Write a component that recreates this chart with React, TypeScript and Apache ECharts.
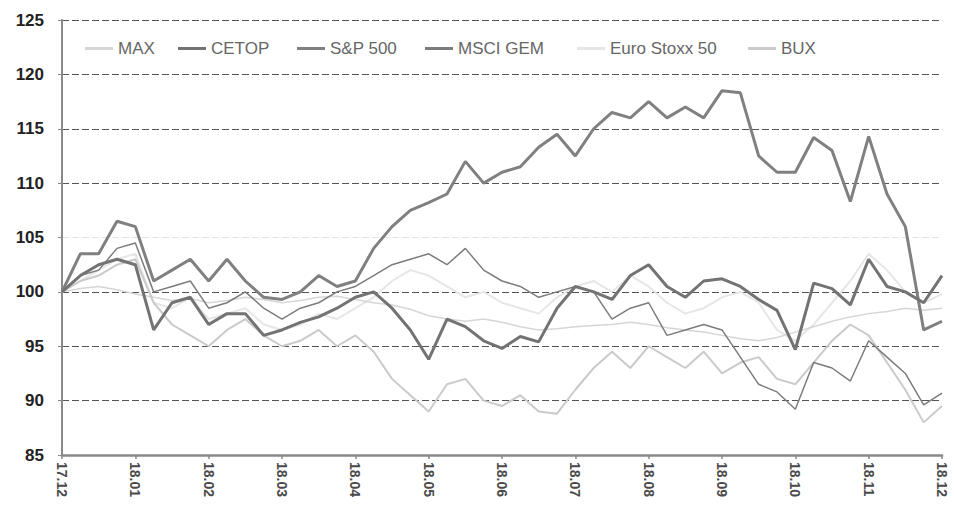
import React, { useEffect, useRef } from "react";
import * as echarts from "echarts";

const monthLabels = ["17.12", "18.01", "18.02", "18.03", "18.04", "18.05", "18.06", "18.07", "18.08", "18.09", "18.10", "18.11", "18.12"];
const weeksPerMonth = 4;
const categories: string[] = [];
for (let m = 0; m < monthLabels.length - 1; m++) {
  for (let w = 0; w < weeksPerMonth; w++) categories.push(monthLabels[m] + "-" + (w + 1));
}
categories.push(monthLabels[monthLabels.length - 1] + "-1");

const yTicks = [85, 90, 95, 100, 105, 110, 115, 120, 125];

const maxIdx = [100, 100.3, 100.5, 100.2, 99.8, 99.5, 99.2, 99.4, 99, 99.2, 99.5, 99.3, 99, 99.2, 99.5, 99.6, 99.3, 99, 98.8, 98.4, 97.8, 97.5, 97.3, 97.5, 97.2, 96.8, 96.5, 96.6, 96.8, 96.9, 97, 97.2, 97, 96.7, 96.5, 96.3, 96, 95.7, 95.5, 95.8, 96.3, 96.8, 97.3, 97.7, 98, 98.2, 98.5, 98.3, 98.5];
const cetop = [100, 101.5, 102.5, 103, 102.5, 96.5, 99, 99.5, 97, 98, 98, 96, 96.5, 97.2, 97.7, 98.5, 99.5, 100, 98.5, 96.5, 93.8, 97.5, 96.8, 95.5, 94.8, 95.9, 95.4, 98.5, 100.5, 100, 99.3, 101.5, 102.5, 100.5, 99.5, 101, 101.2, 100.5, 99.3, 98.3, 94.7, 100.8, 100.3, 98.8, 103, 100.5, 100, 99, 101.5];
const sp500 = [100, 103.5, 103.5, 106.5, 106, 101, 102, 103, 101, 103, 101, 99.5, 99.3, 100, 101.5, 100.5, 101, 104, 106, 107.5, 108.2, 109, 112, 110, 111, 111.5, 113.3, 114.5, 112.5, 115, 116.5, 116, 117.5, 116, 117, 116, 118.5, 118.3, 112.5, 111, 111, 114.2, 113, 108.3, 114.3, 109, 106, 96.5, 97.3];
const msciGem = [100, 101.5, 102, 104, 104.5, 100, 100.5, 101, 98.5, 99, 100, 98.5, 97.5, 98.5, 99, 100, 100.5, 101.5, 102.5, 103, 103.5, 102.5, 104, 102, 101, 100.5, 99.5, 100, 100.5, 100, 97.5, 98.5, 99, 96, 96.5, 97, 96.5, 94, 91.5, 90.8, 89.2, 93.5, 93, 91.8, 95.5, 94, 92.5, 89.6, 90.7];
const euroStoxx = [100, 101, 102, 103, 103.5, 99, 98.5, 99.5, 97.5, 98, 98.5, 97, 96.5, 97, 98, 97.5, 98.5, 99.5, 101, 102, 101.5, 100.5, 99.5, 100, 99, 98.5, 98, 99.5, 100.5, 101, 100, 101.5, 100.5, 99, 98, 98.5, 99.5, 100, 99, 96.5, 95.5, 97, 99, 101, 103.5, 102, 100, 99, 99.8];
const bux = [100, 101, 101.5, 102.5, 103, 99, 97, 96, 95, 96.5, 97.5, 96, 95, 95.5, 96.5, 95, 96, 94.5, 92, 90.5, 89, 91.5, 92, 90, 89.5, 90.5, 89, 88.8, 91, 93, 94.5, 93, 95, 94, 93, 94.5, 92.5, 93.5, 94, 92, 91.5, 93.5, 95.5, 97, 96, 93.5, 91, 88, 89.5];

const seriesDefs = [
  { name: "MAX", data: maxIdx, color: "#d6d6d6", width: 1.5, z: 2, legendLeft: 80 },
  { name: "CETOP", data: cetop, color: "#737373", width: 3, z: 5, legendLeft: 173 },
  { name: "S&P 500", data: sp500, color: "#808080", width: 3, z: 4, legendLeft: 292 },
  { name: "MSCI GEM", data: msciGem, color: "#7c7c7c", width: 1.5, z: 3, legendLeft: 420 },
  { name: "Euro Stoxx 50", data: euroStoxx, color: "#e6e6e6", width: 2, z: 1, legendLeft: 572 },
  { name: "BUX", data: bux, color: "#cacaca", width: 2, z: 2, legendLeft: 743 },
];

const gridColors = yTicks.map((t) => (t === 105 ? "#e2e2e2" : "#555555"));

export default function App() {
  const ref = useRef<HTMLDivElement>(null);
  useEffect(() => {
    if (!ref.current) return;
    const chart = echarts.init(ref.current, undefined, { renderer: "svg" });
    chart.setOption({
      animation: false,
      backgroundColor: "#ffffff",
      textStyle: { fontFamily: "Liberation Sans, Arial, sans-serif" },
      legend: seriesDefs.map((s) => ({
        data: [s.name],
        left: s.legendLeft,
        top: 35,
        icon: "rect",
        itemWidth: 28,
        itemHeight: 3,
        itemGap: 0,
        textStyle: { color: "#666666", fontSize: 17, fontFamily: "Liberation Sans, Arial, sans-serif" },
      })),
      grid: { left: 62, right: 12, top: 20, bottom: 55 },
      xAxis: {
        type: "category",
        data: categories,
        boundaryGap: false,
        axisLine: { show: true, lineStyle: { color: "#8a8a8a", width: 2.5 } },
        axisTick: { show: true, interval: weeksPerMonth - 1, length: 4, lineStyle: { color: "#8a8a8a", width: 1.5 } },
        axisLabel: {
          interval: weeksPerMonth - 1,
          rotate: -90,
          margin: 7,
          color: "#4a4a4a",
          fontSize: 14,
          fontWeight: "bold",
          formatter: (v: string) => v.split("-")[0],
        },
        splitLine: { show: false },
      },
      yAxis: {
        type: "value",
        min: 85,
        max: 125,
        interval: 5,
        axisLine: { show: true, lineStyle: { color: "#8a8a8a", width: 2 } },
        axisTick: { show: true, length: 4, lineStyle: { color: "#8a8a8a" } },
        axisLabel: { color: "#222222", fontSize: 17, fontWeight: "bold", margin: 18 },
        splitLine: { show: true, lineStyle: { color: gridColors, type: [7, 3], width: 1.2 } },
      },
      series: seriesDefs.map((s) => ({
        name: s.name,
        type: "line",
        data: s.data,
        symbol: "none",
        showSymbol: false,
        z: s.z,
        lineStyle: { color: s.color, width: s.width },
        itemStyle: { color: s.color },
      })),
    });
    return () => chart.dispose();
  }, []);
  return (
    <div
      ref={ref}
      style={{ position: "fixed", left: 0, top: 0, width: 954, height: 510, background: "#fff" }}
    />
  );
}
